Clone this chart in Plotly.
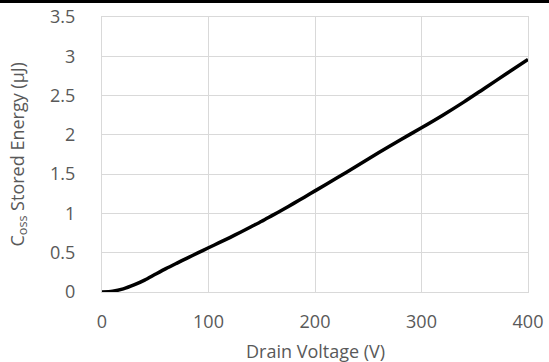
import plotly.graph_objects as go

voltage = [0, 10, 20, 30, 40, 50, 60, 70, 80, 90, 100, 110, 120, 130, 140, 150,
           160, 170, 180, 190, 200, 220, 240, 260, 280, 300, 320, 340, 360, 380, 400]
energy = [0, 0.01, 0.04, 0.09, 0.152, 0.225, 0.297, 0.365, 0.432, 0.498, 0.563,
          0.628, 0.693, 0.76, 0.83, 0.9, 0.975, 1.05, 1.128, 1.207, 1.287, 1.447,
          1.61, 1.775, 1.935, 2.09, 2.25, 2.42, 2.6, 2.78, 2.96]

x_ticks = [0, 100, 200, 300, 400]
y_ticks = [0, 0.5, 1, 1.5, 2, 2.5, 3, 3.5]
y_tick_text = ["0", "0.5", "1", "1.5", "2", "2.5", "3", "3.5"]

fig = go.Figure()
fig.add_trace(go.Scatter(
    x=voltage, y=energy, mode="lines",
    line=dict(color="black", width=3.5, shape="spline", smoothing=0.8),
    showlegend=False, hoverinfo="skip"))

grid = "#d9d9d9"
txt = "#595959"

fig.update_layout(
    width=549, height=362,
    margin=dict(l=102, r=21, t=17, b=70, autoexpand=False),
    paper_bgcolor="white", plot_bgcolor="white",
    font=dict(family="Open Sans", size=18, color=txt),
    xaxis=dict(range=[0, 400], tickvals=x_ticks, showgrid=True, gridcolor=grid,
               gridwidth=1.3, zeroline=False, showline=True, linecolor=grid,
               linewidth=1.3, mirror=True, ticks="", ticklabelstandoff=13,
               automargin=False),
    yaxis=dict(range=[0, 3.5], tickvals=y_ticks, ticktext=y_tick_text, showgrid=True,
               gridcolor=grid, gridwidth=1.3, zeroline=False, showline=True,
               linecolor=grid, linewidth=1.3, mirror=True, ticks="",
               ticklabelstandoff=22, automargin=False),
    annotations=[
        dict(text="Drain Voltage (V)", xref="paper", yref="paper", x=0.5, y=0,
             yshift=-59, xanchor="center", yanchor="middle", showarrow=False,
             font=dict(size=18, color=txt)),
        dict(text="C<sub>oss</sub> Stored Energy (μJ)", xref="paper", yref="paper",
             x=0, y=0.5, xshift=-84, xanchor="center", yanchor="middle",
             textangle=-90, showarrow=False, font=dict(size=18, color=txt)),
    ],
    shapes=[dict(type="rect", xref="paper", yref="paper", ysizemode="pixel",
                 yanchor=1, y0=14, y1=20, x0=-0.5, x1=1.5,
                 fillcolor="black", line=dict(width=0), layer="above")],
)

fig.write_html("out.html", config={"displayModeBar": False},
               post_script="document.body.style.margin='0';")
